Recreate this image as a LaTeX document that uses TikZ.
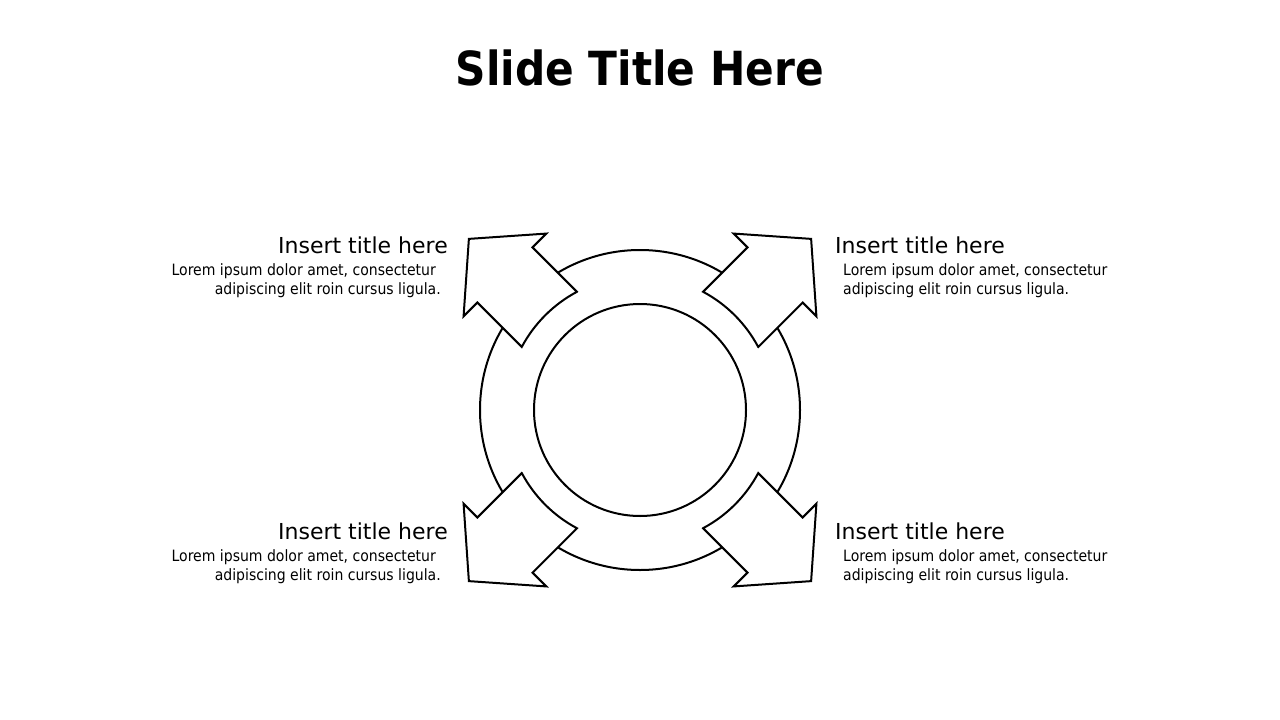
\documentclass[tikz,border=0pt]{standalone}
\usepackage{fontspec}
\setmainfont{DejaVu Sans}
\newfontfamily\condfont{DejaVu Sans Condensed}
\begin{document}
\begin{tikzpicture}[x=1pt,y=-1pt,
  ring/.style={draw=black,line width=2pt},
  arrowshape/.style={draw=black,fill=white,line width=2pt,line join=miter},
  slidetitle/.style={font=\condfont\bfseries\fontsize{47}{55}\selectfont},
  itemtitle/.style={font=\fontsize{22}{26}\selectfont,inner sep=0pt},
  itemtext/.style={font=\condfont\fontsize{15.6}{19}\selectfont,inner sep=0pt}]
\useasboundingbox (0,0) rectangle (1280,720);
\node[slidetitle,anchor=base,inner sep=0pt] (title) at (640,85) {Slide Title Here};
\node[ring,circle,minimum size=320pt,inner sep=0pt] (outer) at (640,410) {};
\node[ring,circle,minimum size=212pt,inner sep=0pt] (inner) at (640,410) {};
\foreach \ang/\nm in {135/tl,45/tr,225/bl,315/br}{
  \begin{scope}[shift={(640,410)},rotate=\ang]
    \draw[arrowshape] (128.2,39) -- (191,39) -- (191,58.5) -- (242,0) -- (191,-58.5) -- (191,-39) -- (128.2,-39) arc (-16.9:16.9:134) -- cycle;
  \end{scope}
}
% left top
\node[itemtitle,anchor=base east] (t1) at (448,253) {Insert title here};
\node[itemtext,anchor=base east] (d1a) at (436,275) {Lorem ipsum dolor amet, consectetur};
\node[itemtext,anchor=base east] (d1b) at (441,294) {adipiscing elit roin cursus ligula.};
% right top
\node[itemtitle,anchor=base west] (t2) at (835,253) {Insert title here};
\node[itemtext,anchor=base west] (d2a) at (843,275) {Lorem ipsum dolor amet, consectetur};
\node[itemtext,anchor=base west] (d2b) at (843,294) {adipiscing elit roin cursus ligula.};
% left bottom
\node[itemtitle,anchor=base east] (t3) at (448,539) {Insert title here};
\node[itemtext,anchor=base east] (d3a) at (436,561) {Lorem ipsum dolor amet, consectetur};
\node[itemtext,anchor=base east] (d3b) at (441,580) {adipiscing elit roin cursus ligula.};
% right bottom
\node[itemtitle,anchor=base west] (t4) at (835,539) {Insert title here};
\node[itemtext,anchor=base west] (d4a) at (843,561) {Lorem ipsum dolor amet, consectetur};
\node[itemtext,anchor=base west] (d4b) at (843,580) {adipiscing elit roin cursus ligula.};
\end{tikzpicture}
\end{document}
